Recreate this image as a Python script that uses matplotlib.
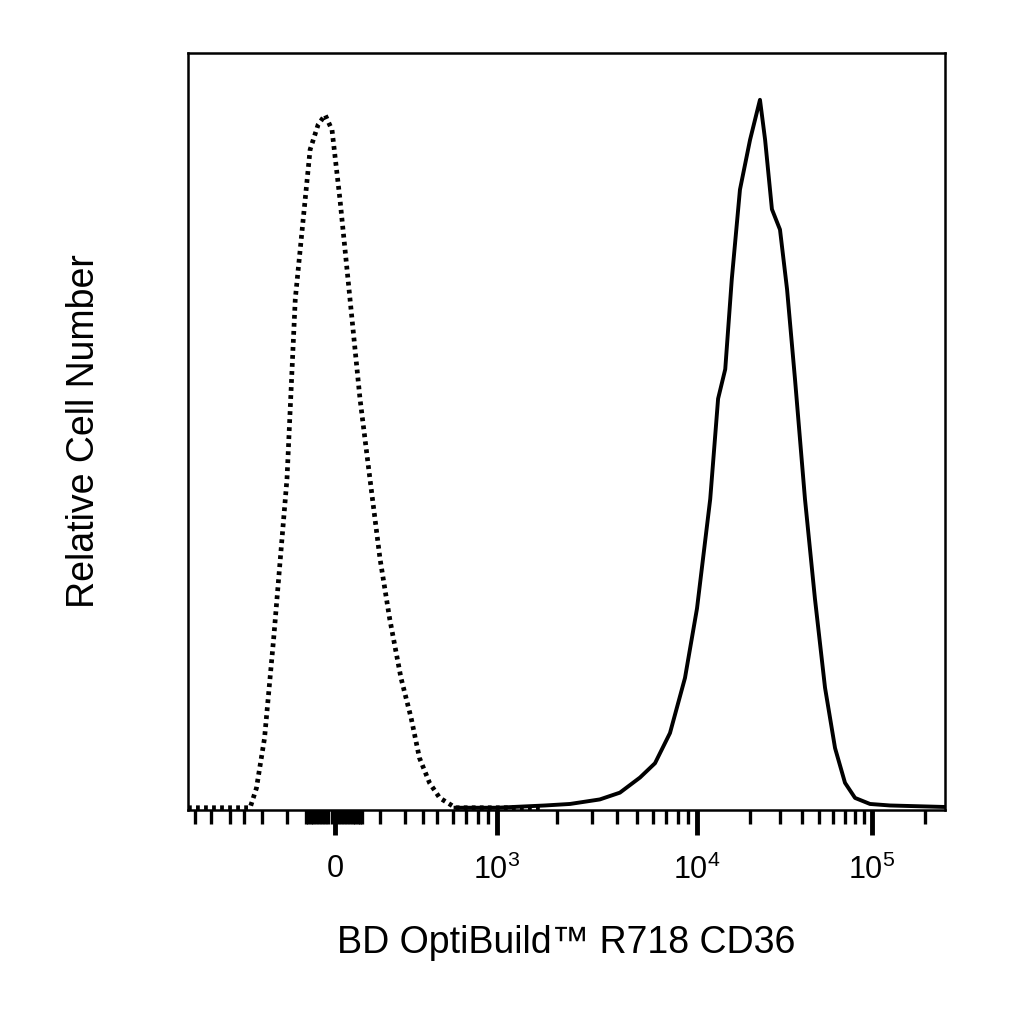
import numpy as np
import matplotlib
matplotlib.use("Agg")
import matplotlib.pyplot as plt

plt.rcParams['font.family'] = ['Liberation Sans', 'DejaVu Sans']
plt.rcParams['mathtext.fontset'] = 'custom'
plt.rcParams['mathtext.rm'] = 'Liberation Sans'
plt.rcParams['mathtext.it'] = 'Liberation Sans'

# unstained control (dotted)
ctrl_x = [-750, -500, -365, -330, -290, -250, -200, -150, -82, -53, -30, -9,
          16, 50, 89, 137, 200, 235, 283, 333, 380, 445, 516, 620, 1000, 1700]
ctrl_y = [0.0, 0.0, 0.0, 0.026, 0.092, 0.224, 0.436, 0.674, 0.872, 0.905, 0.918, 0.898,
          0.806, 0.674, 0.542, 0.436, 0.330, 0.251, 0.172, 0.119, 0.066, 0.033, 0.013, 0.0, 0.0, 0.0]

# stained CD36 (solid)
cd36_x = [620, 1000, 1740, 2320, 3270, 4120, 5190, 6170, 7330, 8710, 10000, 11900,
          13200, 14500, 15800, 17600, 20100, 22900, 24500, 26800, 29800, 32700,
          36300, 41400, 47200, 53900, 61500, 70100, 80000, 97400, 126700, 262000]
cd36_y = [0.0, 0.0, 0.003, 0.005, 0.011, 0.020, 0.040, 0.059, 0.099, 0.172, 0.264, 0.409,
          0.542, 0.581, 0.700, 0.819, 0.885, 0.938, 0.885, 0.793, 0.766, 0.687,
          0.568, 0.409, 0.277, 0.159, 0.079, 0.033, 0.013, 0.005, 0.003, 0.001]

W = 100.0
anchor_v = np.array([-750, -500, -200, 0, 200, 500, 1000, 1e4, 1e5, 262144])
anchor_p = np.array([188, 230, 287, 335, 380, 437, 497, 697, 872, 945], float)
anchor_a = np.arcsinh(anchor_v / W)


def fwd(v):
    return np.interp(np.arcsinh(np.asarray(v, float) / W), anchor_a, anchor_p)


def inv(p):
    return np.sinh(np.interp(np.asarray(p, float), anchor_p, anchor_a)) * W


fig = plt.figure(figsize=(10.24, 10.24), dpi=100)
ax = fig.add_axes([188 / 1024, 214 / 1024, 757 / 1024, 757 / 1024])
ax.set_xscale('function', functions=(fwd, inv))

ax.plot(ctrl_x, ctrl_y, color='black', lw=3.4, ls=(0, (0.8, 0.9)))
ax.plot(cd36_x, cd36_y, color='black', lw=2.8)

ax.set_xlim(-750, 262144)
ax.set_ylim(-0.003, 1.0)
ax.set_yticks([])

major = [1e3, 1e4, 1e5]
minor = [v for v in range(-700, 0, 100)] + list(range(-90, 100, 10)) + list(range(100, 1000, 100))
minor += [k * 1000 for k in range(2, 10)] + [k * 10000 for k in range(2, 10)] + [2e5]
ax.set_xticks([0] + major)
ax.set_xticklabels(['0', r'$\mathregular{10^3}$', r'$\mathregular{10^4}$',
                    r'$\mathregular{10^5}$'], fontsize=22)
ax.set_xticks(minor, minor=True)
ax.tick_params(axis='x', which='major', direction='out', length=18, width=3.5, pad=14)
ax.tick_params(axis='x', which='minor', direction='out', length=10, width=2.4)
for s in ax.spines.values():
    s.set_linewidth(1.8)

ax.set_xlabel('BD OptiBuild\u2122 R718 CD36', fontsize=27, labelpad=28)
ax.set_ylabel('Relative Cell Number', fontsize=27, labelpad=62)

fig.savefig('out.png', dpi=100)
